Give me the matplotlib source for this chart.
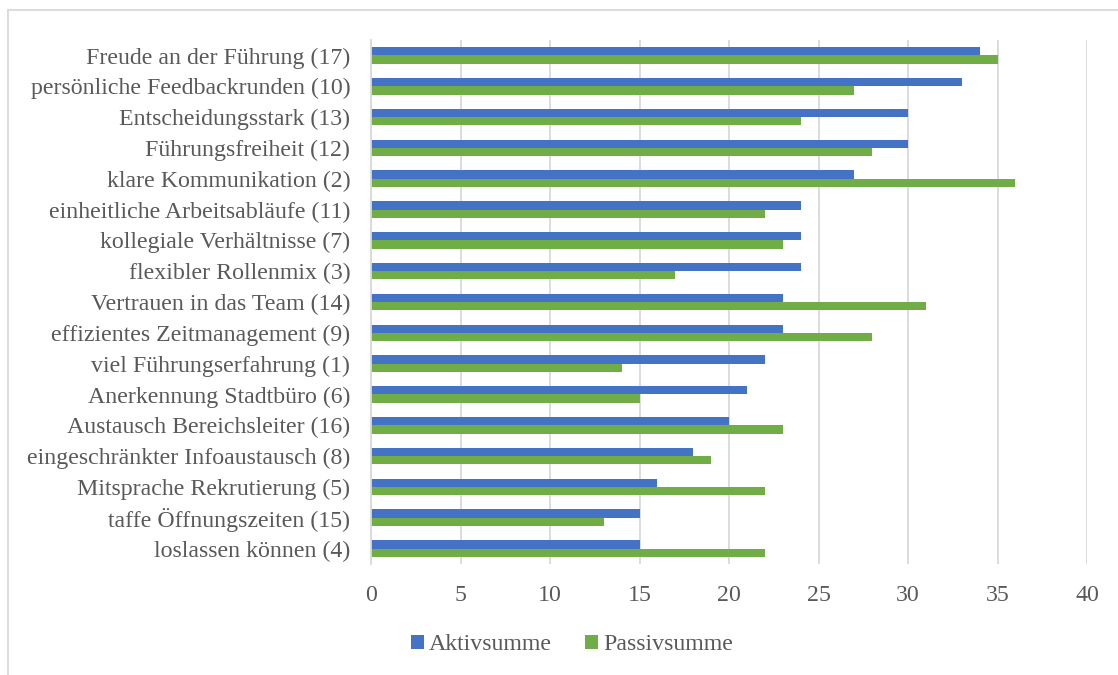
import matplotlib
matplotlib.use("Agg")
import matplotlib.pyplot as plt
import numpy as np
from matplotlib.lines import Line2D

labels = [
    "Freude an der Führung (17)",
    "persönliche Feedbackrunden (10)",
    "Entscheidungsstark (13)",
    "Führungsfreiheit (12)",
    "klare Kommunikation (2)",
    "einheitliche Arbeitsabläufe (11)",
    "kollegiale Verhältnisse (7)",
    "flexibler Rollenmix (3)",
    "Vertrauen in das Team (14)",
    "effizientes Zeitmanagement (9)",
    "viel Führungserfahrung (1)",
    "Anerkennung Stadtbüro (6)",
    "Austausch Bereichsleiter (16)",
    "eingeschränkter Infoaustausch (8)",
    "Mitsprache Rekrutierung (5)",
    "taffe Öffnungszeiten (15)",
    "loslassen können (4)",
]
aktiv = [34, 33, 30, 30, 27, 24, 24, 24, 23, 23, 22, 21, 20, 18, 16, 15, 15]
passiv = [35, 27, 24, 28, 36, 22, 23, 17, 31, 28, 14, 15, 23, 19, 22, 13, 22]
xticks = [0, 5, 10, 15, 20, 25, 30, 35, 40]

plt.rcParams["font.family"] = ["Liberation Serif", "DejaVu Serif"]
text_col = "#595959"
grid_col = "#d9d9d9"

fig = plt.figure(figsize=(11.18, 6.75), dpi=100)
ax = fig.add_axes([371 / 1118, 1 - 564 / 675, (1087 - 371) / 1118, (564 - 40) / 675])

y = np.arange(len(labels))
h = 0.27
ax.barh(y - h / 2, aktiv, height=h, color="#4472c4", label="Aktivsumme")
ax.barh(y + h / 2, passiv, height=h, color="#70ad47", label="Passivsumme")

ax.set_ylim(len(labels) - 0.5, -0.5)
ax.set_xlim(0, 40)
ax.set_yticks(y)
ax.set_yticklabels(labels, fontsize=17.2, color=text_col)
ax.set_xticks(xticks)
ax.set_xticklabels([str(t) for t in xticks], fontsize=17.2, color=text_col)
ax.tick_params(axis="both", length=0)
ax.tick_params(axis="y", pad=15)
ax.tick_params(axis="x", pad=15)
ax.xaxis.grid(True, color=grid_col, linewidth=1.3)
ax.set_axisbelow(True)
for s in ["top", "right", "bottom"]:
    ax.spines[s].set_visible(False)
ax.spines["left"].set_color(grid_col)
ax.spines["left"].set_linewidth(1.3)

ax.legend(loc="center", bbox_to_anchor=(572 / 1118, 1 - 645 / 675), bbox_transform=fig.transFigure,
          ncol=2, frameon=False, fontsize=17.2, handlelength=0.55, handleheight=0.55,
          handletextpad=0.2, columnspacing=1.4, labelcolor=text_col)

# outer chart border
fig.add_artist(Line2D([8 / 1118, 8 / 1118], [0, 1 - 10 / 675], color=grid_col, linewidth=1.3))
fig.add_artist(Line2D([8 / 1118, 1], [1 - 10 / 675, 1 - 10 / 675], color=grid_col, linewidth=1.3))

fig.savefig("out.png", dpi=100, facecolor="white")
